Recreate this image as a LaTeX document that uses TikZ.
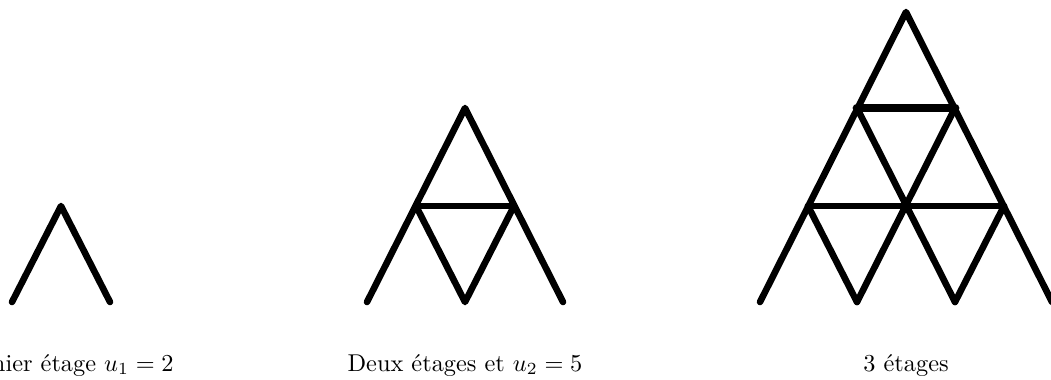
\documentclass[tikz,border=0pt]{standalone}
\begin{document}
\begin{tikzpicture}[x=0.411pt,y=-0.411pt,
  bar/.style={line width=2.7pt,line cap=round,line join=round},
  topbar/.style={line width=3.6pt,line cap=round,line join=round},
  lab/.style={anchor=base,inner sep=0pt}]
\useasboundingbox (0,0) rectangle (1051,379);
\clip (0,0) rectangle (1051,379);
% figure 1
\coordinate (a1) at (61,206);
\coordinate (a1l) at (12,302);
\coordinate (a1r) at (110,302);
\draw[bar] (a1l) -- (a1) -- (a1r);
% figure 2
\coordinate (b1) at (465,108);
\coordinate (b2l) at (416,206);
\coordinate (b2r) at (514,206);
\coordinate (b3l) at (367,302);
\coordinate (b3m) at (465,302);
\coordinate (b3r) at (563,302);
\draw[bar] (b3l) -- (b1) -- (b3r);
\draw[bar] (b2l) -- (b2r);
\draw[bar] (b2l) -- (b3m) -- (b2r);
% figure 3
\coordinate (c1) at (906,12);
\coordinate (c2l) at (857,108);
\coordinate (c2r) at (955,108);
\coordinate (c3l) at (808,206);
\coordinate (c3m) at (906,206);
\coordinate (c3r) at (1004,206);
\coordinate (c4a) at (760,302);
\coordinate (c4b) at (857,302);
\coordinate (c4c) at (955,302);
\coordinate (c4d) at (1052,302);
\draw[bar] (c4a) -- (c1) -- (c4d);
\draw[topbar] (c2l) -- (c2r);
\draw[bar] (c3l) -- (c3r);
\draw[bar] (c2l) -- (c4c);
\draw[bar] (c2r) -- (c4b);
\draw[bar] (c3l) -- (c4b);
\draw[bar] (c3r) -- (c4c);
% labels
\node[lab] (t1) at (61,371) {Premier étage $u_1=2$};
\node[lab] (t2) at (465,371) {Deux étages et $u_2=5$};
\node[lab] (t3) at (906,371) {3 étages};
\end{tikzpicture}
\end{document}
